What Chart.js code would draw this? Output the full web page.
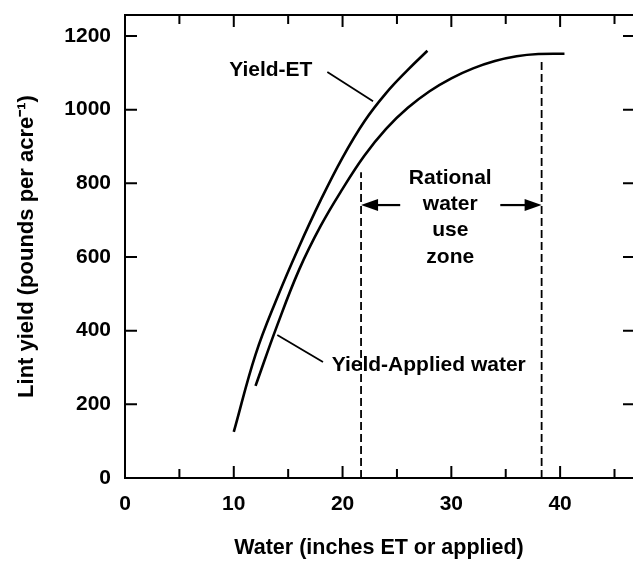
<!DOCTYPE html>
<html>
<head>
<meta charset="utf-8">
<script src="https://cdn.jsdelivr.net/npm/chart.js@4/dist/chart.umd.min.js"></script>
<style>
    html, body { margin: 0; padding: 0; background: #fff; }
    #wrap { width: 633px; height: 561px; }
</style>
</head>
<body>
<div id="wrap"><canvas id="myChart" width="633" height="561"></canvas></div>
<script>
// values (x = inches of water, y = pounds per acre)
const etX = [10, 12, 14, 16, 18, 20, 22, 24, 26, 27.8];
const etY = [125, 335, 490, 628, 755, 870, 968, 1045, 1108, 1160];
const appliedX = [12, 14, 16, 18, 20, 22, 24, 26, 28, 30, 32, 34, 36, 38, 40.4];
const appliedY = [250, 415, 565, 685, 785, 875, 948, 1005, 1050, 1085, 1112, 1132, 1145, 1151, 1152];

// rational water use zone
const zoneX = [21.7, 38.3];
const zoneTop = [830, 1130];
const zoneArrowY = 741;
const zoneArrowStart = [25.3, 34.5];
const zoneText = ['Rational', 'water', 'use', 'zone'];
const zoneTextY = [814, 744, 673, 600];

// curve labels and their leader lines
const etLeaderX = [18.6, 22.8];
const etLeaderY = [1102, 1023];
const appliedLeaderX = [14.0, 18.2];
const appliedLeaderY = [388, 315];

const xTicks = [0, 10, 20, 30, 40];
const yTicks = [0, 200, 400, 600, 800, 1000, 1200];

const FONT = '"Liberation Sans", Arial, Helvetica, sans-serif';

function toPoints(xs, ys) {
    return xs.map((x, i) => ({ x: x, y: ys[i] }));
}

const frame = {
    id: 'frame_ticks',
    afterDraw: (chart) => {
        const { ctx, chartArea, scales } = chart;
        const x = scales.x, y = scales.y;
        ctx.save();
        ctx.strokeStyle = '#000';
        ctx.lineWidth = 2;
        // top border
        ctx.beginPath();
        ctx.moveTo(chartArea.left, chartArea.top);
        ctx.lineTo(chartArea.right, chartArea.top);
        ctx.stroke();
        // inward ticks, every 5 inches
        for (let v = 0; v <= 45; v += 5) {
            const px = x.getPixelForValue(v);
            const len = v % 10 === 0 ? 12 : 9;
            ctx.beginPath();
            ctx.moveTo(px, chartArea.bottom);
            ctx.lineTo(px, chartArea.bottom - len);
            ctx.moveTo(px, chartArea.top);
            ctx.lineTo(px, chartArea.top + len);
            ctx.stroke();
        }
        yTicks.forEach(v => {
            const py = y.getPixelForValue(v);
            ctx.beginPath();
            ctx.moveTo(chartArea.left, py);
            ctx.lineTo(chartArea.left + 12, py);
            ctx.moveTo(chartArea.right, py);
            ctx.lineTo(chartArea.right - 10, py);
            ctx.stroke();
        });

        // arrows of the zone
        ctx.lineWidth = 2.2;
        ctx.fillStyle = '#000';
        const ay = y.getPixelForValue(zoneArrowY);
        for (let i = 0; i < 2; i++) {
            const x0 = x.getPixelForValue(zoneArrowStart[i]);
            const x1 = x.getPixelForValue(zoneX[i]);
            const dir = x1 > x0 ? 1 : -1;
            ctx.beginPath();
            ctx.moveTo(x0, ay);
            ctx.lineTo(x1 - dir * 12, ay);
            ctx.stroke();
            ctx.beginPath();
            ctx.moveTo(x1, ay);
            ctx.lineTo(x1 - dir * 17, ay - 6);
            ctx.lineTo(x1 - dir * 17, ay + 6);
            ctx.closePath();
            ctx.fill();
        }

        // texts
        ctx.font = 'bold 21px ' + FONT;
        ctx.textBaseline = 'middle';
        ctx.textAlign = 'center';
        zoneText.forEach((t, i) => {
            ctx.fillText(t, x.getPixelForValue(29.9), y.getPixelForValue(zoneTextY[i]));
        });
        ctx.fillText('Yield-ET', x.getPixelForValue(13.4), y.getPixelForValue(1107));
        ctx.textAlign = 'left';
        ctx.fillText('Yield-Applied water', x.getPixelForValue(19.0), y.getPixelForValue(307));
        ctx.restore();
    }
};

function createChart() {
    const ctx = document.querySelector('#myChart').getContext('2d');
    const line = (data, width, dash, tension) => ({
        data: data,
        borderColor: '#000',
        borderWidth: width,
        borderDash: dash || [],
        pointRadius: 0,
        fill: false,
        tension: tension || 0
    });

    return new Chart(ctx, {
        type: 'line',
        data: {
            datasets: [
                line(toPoints(etX, etY), 2.6, null, 0.4),
                line(toPoints(appliedX, appliedY), 2.6, null, 0.4),
                line([{ x: zoneX[0], y: 0 }, { x: zoneX[0], y: zoneTop[0] }], 1.8, [8, 4]),
                line([{ x: zoneX[1], y: 0 }, { x: zoneX[1], y: zoneTop[1] }], 1.8, [8, 4]),
                line(toPoints(etLeaderX, etLeaderY), 1.8),
                line(toPoints(appliedLeaderX, appliedLeaderY), 1.8)
            ]
        },
        options: {
            responsive: false,
            animation: false,
            devicePixelRatio: 1,
            layout: { padding: 0 },
            plugins: {
                legend: { display: false },
                tooltip: { enabled: false }
            },
            scales: {
                x: {
                    type: 'linear',
                    min: 0,
                    max: 46.7,
                    afterBuildTicks: (s) => { s.ticks = xTicks.map(v => ({ value: v })); },
                    afterFit: (s) => { s.height = 83; s.paddingLeft = 0; s.paddingRight = 0; },
                    grid: { display: false, drawTicks: false },
                    border: { display: true, color: '#000', width: 2 },
                    ticks: {
                        color: '#000',
                        padding: 14,
                        maxRotation: 0,
                        callback: (v) => String(v),
                        font: { family: FONT, size: 21, weight: 'bold' }
                    },
                    title: {
                        display: true,
                        text: 'Water (inches ET or applied)',
                        color: '#000',
                        padding: { top: 0, bottom: 0 },
                        font: { family: FONT, size: 21.5, weight: 'bold' }
                    }
                },
                y: {
                    min: 0,
                    max: 1257,
                    afterBuildTicks: (s) => { s.ticks = yTicks.map(v => ({ value: v })); },
                    afterFit: (s) => { s.width = 125; s.paddingTop = 15; s.paddingBottom = 0; },
                    grid: { display: false, drawTicks: false },
                    border: { display: true, color: '#000', width: 2 },
                    ticks: {
                        color: '#000',
                        padding: 14,
                        callback: (v) => String(v),
                        font: { family: FONT, size: 21, weight: 'bold' }
                    },
                    title: {
                        display: true,
                        text: 'Lint yield (pounds per acre\u207B\u00B9)',
                        color: '#000',
                        padding: { top: 14, bottom: 0 },
                        font: { family: FONT, size: 22, weight: 'bold' }
                    }
                }
            }
        },
        plugins: [frame]
    });
}

createChart();
</script>
</body>
</html>
